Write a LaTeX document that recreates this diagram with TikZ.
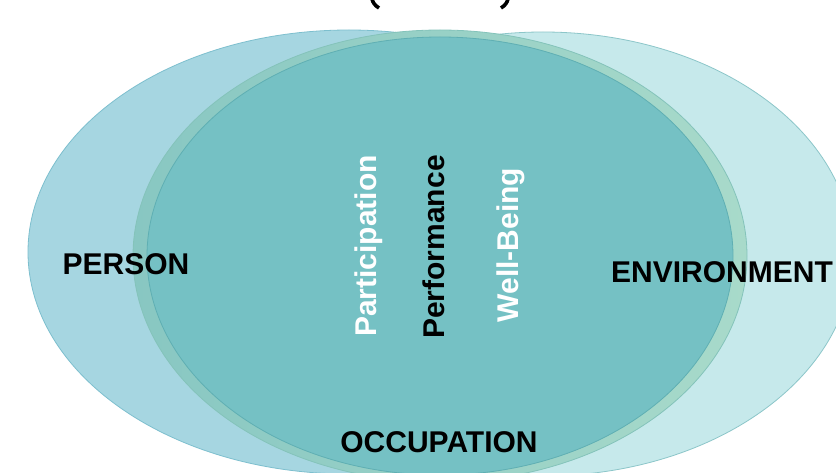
\documentclass[tikz,border=0pt]{standalone}
\usepackage{fontspec}
\setmainfont{Liberation Sans}
\definecolor{personfill}{HTML}{A6D6E1}
\definecolor{personline}{HTML}{7DBFCE}
\definecolor{envfill}{HTML}{C6E9EB}
\definecolor{envline}{HTML}{8CC6C9}
\definecolor{ringL}{HTML}{88C7C2}
\definecolor{ringR}{HTML}{A8DACA}
\definecolor{ringline}{HTML}{84C3BA}
\definecolor{innerfill}{HTML}{75C1C4}
\definecolor{innerline}{HTML}{5FAFB3}
\begin{document}
\begin{tikzpicture}[x=1pt,y=-1pt,
  lbl/.style={font=\fontsize{30}{30}\selectfont\bfseries, inner sep=0pt, anchor=base},
  vlbl/.style={lbl, rotate=90},
  blob/.style={line width=0.8pt},
  paren/.style={line width=3.6pt, line cap=butt}]
\useasboundingbox (0,0) rectangle (836,473);
\fill[white] (0,0) rectangle (836,473);
% person and environment
\path[blob, fill=personfill, draw=personline] (349,252) ellipse [x radius=321pt, y radius=222pt];
\path[blob, fill=envfill, draw=envline] (543,254) ellipse [x radius=310pt, y radius=222pt];
% occupation ring
\path[blob, left color=ringL, right color=ringR, draw=ringline] (440,256) ellipse [x radius=307pt, y radius=226pt];
\path[blob, fill=innerfill, draw=innerline] (440,256) ellipse [x radius=293pt, y radius=219pt];
% labels
\node[lbl] (person) at (126,275) {PERSON};
\node[lbl] (env) at (722,283) {ENVIRONMENT};
\node[lbl] (occ) at (439,452) {OCCUPATION};
\node[vlbl, text=white] (part) at (376,246) {Participation};
\node[vlbl, text=black] (perf) at (444,247) {Performance};
\node[vlbl, text=white] (well) at (518,245) {Well-Being};
% bottoms of the cut-off title's brackets
\draw[paren] (372,-1) .. controls (373,3) and (375,5.5) .. (379,8);
\draw[paren] (508,-1) .. controls (507,3) and (505,5.5) .. (501,8);
\end{tikzpicture}
\end{document}
